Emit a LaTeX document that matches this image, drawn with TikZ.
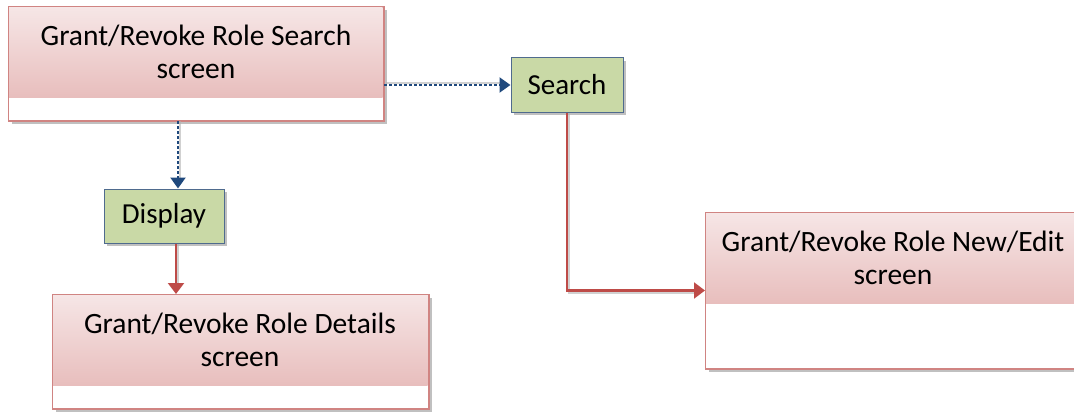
\documentclass[tikz,border=0pt]{standalone}
\usepackage{fontspec}
\setmainfont{Carlito}
\usetikzlibrary{arrows.meta,shadows}
\definecolor{pinkTop}{HTML}{F6E6E6}
\definecolor{pinkBot}{HTML}{E8BEBD}
\definecolor{boxRed}{HTML}{D08482}
\definecolor{greenFill}{HTML}{C9D9A6}
\definecolor{greenBorder}{HTML}{4F6B8E}
\definecolor{dashBlue}{HTML}{1F497D}
\definecolor{arrowRed}{HTML}{BE4B48}
\begin{document}
\begin{tikzpicture}[x=1pt,y=-1pt,
  screen/.style={rectangle, draw=boxRed, line width=1pt, fill=white, inner sep=0pt, anchor=north west,
    drop shadow={shadow xshift=3pt, shadow yshift=-3pt, fill=black!45, opacity=0.55}},
  screentext/.style={align=center, inner sep=0pt, font=\fontsize{29.5}{33}\selectfont},
  act/.style={rectangle, draw=greenBorder, line width=1pt, fill=greenFill, inner sep=0pt,
    font=\fontsize{29}{33}\selectfont,
    drop shadow={shadow xshift=3pt, shadow yshift=-3pt, fill=black!45, opacity=0.55}},
  dotarrow/.style={draw=dashBlue, line width=2.2pt, dash pattern=on 3pt off 2pt,
    -{Triangle[width=15pt,length=11pt,fill=dashBlue]}},
  redarrow/.style={draw=arrowRed, line width=2.2pt, -{Triangle[width=16pt,length=11pt,fill=arrowRed]}},
  ashadow/.style={draw=black!30, line width=2pt, opacity=0.6}
]
\useasboundingbox (0,0) rectangle (1074,412);

% Search screen
\node[screen, minimum width=375pt, minimum height=113pt] (s) at (8,7) {};
\shade[top color=pinkTop, bottom color=pinkBot] ([xshift=0.5pt,yshift=-0.5pt]s.north west) rectangle (382.5,97);
\draw[boxRed, line width=1pt] (s.north west) rectangle (s.south east);
\node[screentext] (st) at (196,52) {Grant/Revoke Role Search\\screen};

% Details screen
\node[screen, minimum width=376pt, minimum height=114pt] (det) at (52,294) {};
\shade[top color=pinkTop, bottom color=pinkBot] ([xshift=0.5pt,yshift=-0.5pt]det.north west) rectangle (427.5,385);
\draw[boxRed, line width=1pt] (det.north west) rectangle (det.south east);
\node[screentext] (dett) at (240,340) {Grant/Revoke Role Details\\screen};

% New/Edit screen
\node[screen, minimum width=376pt, minimum height=156pt] (ne) at (705,212) {};
\shade[top color=pinkTop, bottom color=pinkBot] ([xshift=0.5pt,yshift=-0.5pt]ne.north west) rectangle (1080.5,303);
\draw[boxRed, line width=1pt] (ne.north west) rectangle (ne.south east);
\node[screentext] (net) at (893,258) {Grant/Revoke Role New/Edit\\screen};

% Action boxes
\node[act, minimum width=112pt, minimum height=54pt] (se) at (567,85) {Search};
\node[act, minimum width=120pt, minimum height=54pt] (d) at (164,216) {Display};

\coordinate (d1) at ([xshift=14pt]d.north);
\coordinate (d2) at ([xshift=12pt]d.south);

% arrow shadows
\draw[ashadow] ([xshift=2pt,yshift=2pt]s.east |- se.west) -- ([xshift=-8pt,yshift=2pt]se.west);
\draw[ashadow] ([xshift=2pt]s.south -| d1) -- ([xshift=2pt,yshift=8pt]d1);
\draw[ashadow] ([xshift=2pt]d2) -- ([xshift=2pt,yshift=8pt]d2 |- det.north);
\draw[ashadow] ([xshift=2pt]se.south) -- ([xshift=2pt,yshift=-2pt]se.south |- ne.west) -- ([xshift=-8pt,yshift=-2pt]ne.west);

% connectors
\draw[dotarrow] (s.east |- se.west) -- (se.west);
\draw[dotarrow] (s.south -| d1) -- (d1);
\draw[redarrow] (d2) -- (d2 |- det.north);
\draw[redarrow] (se.south) |- (ne.west);
\end{tikzpicture}
\end{document}
